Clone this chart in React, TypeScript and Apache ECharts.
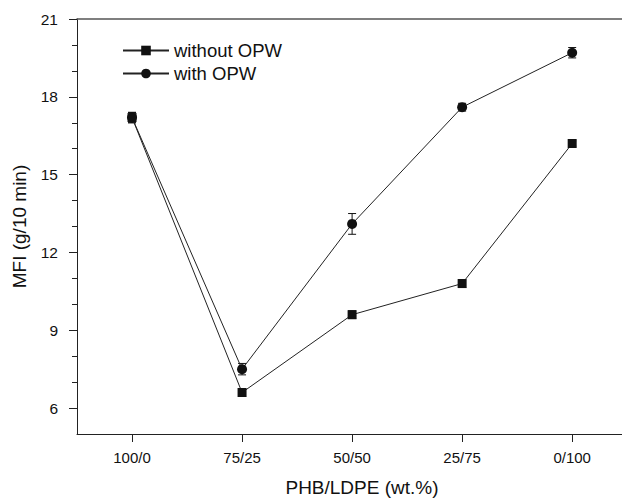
import React, { useEffect, useRef } from "react";
import * as echarts from "echarts";

const categories = ["100/0", "75/25", "50/50", "25/75", "0/100"];
const withoutOPW = [17.2, 6.6, 9.6, 10.8, 16.2];
const withoutOPWErr = [0.2, 0.15, 0.15, 0.15, 0.1];
const withOPW = [17.2, 7.5, 13.1, 17.6, 19.7];
const withOPWErr = [0.2, 0.22, 0.4, 0.15, 0.2];
const yMajorTicks = [6, 9, 12, 15, 18, 21];
const yMinorTicks = [7, 8, 10, 11, 13, 14, 16, 17, 19, 20];
const xTickValues = [0, 1, 2, 3, 4];

const FONT = '"Liberation Sans", Arial, Helvetica, sans-serif';

function errorSeries(values: number[], errs: number[], z: number) {
  return {
    type: "custom",
    xAxisIndex: 0,
    yAxisIndex: 0,
    z,
    silent: true,
    data: values.map((v, i) => [i, v - errs[i], v + errs[i]]),
    renderItem: (params: any, api: any) => {
      const x = api.value(0);
      const lo = api.coord([x, api.value(1)]);
      const hi = api.coord([x, api.value(2)]);
      const hw = 4;
      const style = { stroke: "#111", lineWidth: 1 };
      return {
        type: "group",
        children: [
          { type: "line", shape: { x1: lo[0], y1: lo[1], x2: hi[0], y2: hi[1] }, style },
          { type: "line", shape: { x1: lo[0] - hw, y1: lo[1], x2: lo[0] + hw, y2: lo[1] }, style },
          { type: "line", shape: { x1: hi[0] - hw, y1: hi[1], x2: hi[0] + hw, y2: hi[1] }, style },
        ],
      };
    },
  };
}

export default function App() {
  const ref = useRef<HTMLDivElement>(null);
  useEffect(() => {
    if (!ref.current) return;
    const chart = echarts.init(ref.current, undefined, { renderer: "svg" });
    chart.setOption({
      animation: false,
      backgroundColor: "#ffffff",
      textStyle: { fontFamily: FONT, color: "#111" },
      grid: { left: 77, top: 19, width: 570, height: 417, containLabel: false },
      legend: {
        left: 122,
        top: 41,
        padding: 0,
        orient: "vertical",
        itemWidth: 46,
        itemHeight: 12,
        itemGap: 4,
        textStyle: { fontFamily: FONT, fontSize: 18.5, color: "#111" },
        data: ["without OPW", "with OPW"],
      },
      xAxis: [
        {
          type: "value",
          min: -0.5,
          max: 4.68,
          position: "bottom",
          name: "PHB/LDPE (wt.%)",
          nameLocation: "middle",
          nameGap: 44,
          nameTextStyle: { fontFamily: FONT, fontSize: 19, color: "#111" },
          axisLine: { show: true, onZero: false, lineStyle: { color: "#222", width: 1 } },
          axisTick: { show: true, inside: false, length: 8, customValues: xTickValues, lineStyle: { color: "#222" } },
          axisLabel: {
            show: true,
            margin: 16,
            fontSize: 15,
            color: "#111",
            fontFamily: FONT,
            customValues: xTickValues,
            formatter: (v: number) => categories[Math.round(v)] ?? "",
          },
          splitLine: { show: false },
        },
        {
          type: "value",
          min: -0.5,
          max: 4.68,
          position: "top",
          axisLine: { show: true, onZero: false, lineStyle: { color: "#555", width: 1.5 } },
          axisTick: { show: false },
          axisLabel: { show: false },
          splitLine: { show: false },
        },
      ],
      yAxis: [
        {
          type: "value",
          min: 5,
          max: 21,
          position: "left",
          name: "MFI (g/10 min)",
          nameLocation: "middle",
          nameGap: 48,
          nameTextStyle: { fontFamily: FONT, fontSize: 19, color: "#111" },
          axisLine: { show: true, onZero: false, lineStyle: { color: "#222", width: 1 } },
          axisTick: { show: true, inside: false, length: 8, customValues: yMajorTicks, lineStyle: { color: "#222" } },
          axisLabel: { show: true, margin: 19, fontSize: 15.5, color: "#111", fontFamily: FONT, customValues: yMajorTicks },
          splitLine: { show: false },
        },
        {
          type: "value",
          min: 5,
          max: 21,
          position: "left",
          axisLine: { show: false, onZero: false },
          axisTick: { show: true, inside: false, length: 5, customValues: yMinorTicks, lineStyle: { color: "#222" } },
          axisLabel: { show: false, customValues: yMinorTicks },
          splitLine: { show: false },
        },
      ],
      series: [
        errorSeries(withOPW, withOPWErr, 2),
        errorSeries(withoutOPW, withoutOPWErr, 4),
        {
          name: "with OPW",
          type: "line",
          xAxisIndex: 0,
          yAxisIndex: 0,
          z: 3,
          data: withOPW.map((v, i) => [i, v]),
          symbol: "circle",
          symbolSize: 10,
          lineStyle: { color: "#222", width: 1 },
          itemStyle: { color: "#111", borderWidth: 0 },
        },
        {
          name: "without OPW",
          type: "line",
          xAxisIndex: 0,
          yAxisIndex: 0,
          z: 5,
          data: withoutOPW.map((v, i) => [i, v]),
          symbol: "rect",
          symbolSize: 9,
          lineStyle: { color: "#222", width: 1 },
          itemStyle: { color: "#111", borderWidth: 0 },
        },
      ],
    });
    return () => chart.dispose();
  }, []);
  return (
    <div
      style={{ position: "fixed", left: 0, top: 0, width: 622, height: 502, overflow: "hidden", background: "#fff" }}
    >
      <div ref={ref} style={{ width: 700, height: 502 }} />
    </div>
  );
}
